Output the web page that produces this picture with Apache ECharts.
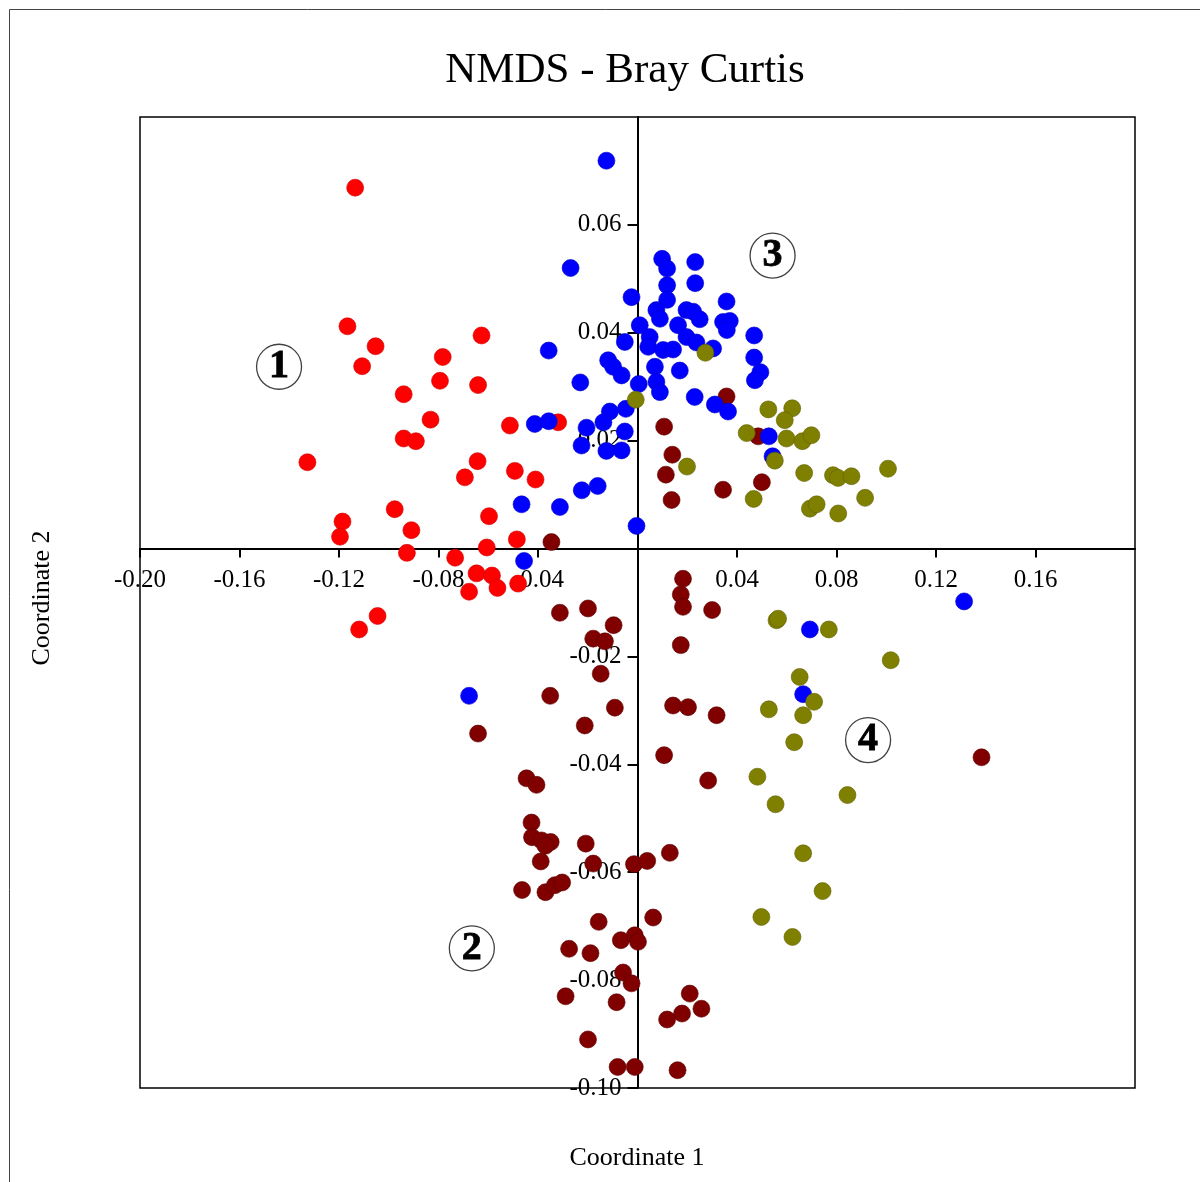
<!DOCTYPE html>
<html>
<head>
<meta charset="utf-8">
<script src="https://cdn.jsdelivr.net/npm/echarts@6/dist/echarts.min.js"></script>
<style>
html,body{margin:0;padding:0;background:#fff;}
#chart{width:1200px;height:1182px;}
</style>
</head>
<body>
<div id="chart"></div>
<script>
// ---- Data (NMDS coordinates) ----
var redPoints = [
  [-0.1135,0.0669],[-0.1166,0.0412],[-0.1053,0.0375],[-0.1107,0.0338],[-0.0783,0.0355],
  [-0.0794,0.0311],[-0.0627,0.0395],[-0.0641,0.0303],[-0.0940,0.0286],[-0.0832,0.0239],
  [-0.0940,0.0204],[-0.0891,0.0199],[-0.1327,0.0160],[-0.0643,0.0162],[-0.0694,0.0132],
  [-0.0493,0.0144],[-0.0410,0.0128],[-0.0513,0.0228],[-0.0319,0.0234],[-0.0976,0.0073],
  [-0.1186,0.0050],[-0.1196,0.0022],[-0.0909,0.0034],[-0.0597,0.0060],[-0.0485,0.0017],
  [-0.0606,0.0002],[-0.0927,-0.0008],[-0.0733,-0.0017],[-0.0647,-0.0046],[-0.0585,-0.0050],
  [-0.0563,-0.0073],[-0.0480,-0.0065],[-0.0677,-0.0080],[-0.1045,-0.0125],[-0.1119,-0.0150]
];
var maroonPoints = [
  [0.0358,0.0282],[0.0107,0.0226],[0.0485,0.0208],[0.0140,0.0174],[0.0114,0.0137],
  [0.0137,0.0090],[0.0344,0.0109],[0.0500,0.0123],[-0.0346,0.0012],[0.0183,-0.0056],
  [0.0174,-0.0085],[0.0183,-0.0108],[0.0300,-0.0114],[-0.0312,-0.0119],[-0.0199,-0.0111],
  [-0.0096,-0.0142],[-0.0178,-0.0167],[-0.0131,-0.0172],[0.0174,-0.0179],[-0.0148,-0.0232],
  [-0.0351,-0.0273],[-0.0091,-0.0295],[-0.0212,-0.0328],[0.0143,-0.0291],[0.0203,-0.0294],
  [0.0318,-0.0309],[0.0107,-0.0383],[-0.0641,-0.0343],[0.1383,-0.0387],[-0.0446,-0.0426],
  [-0.0406,-0.0438],[0.0284,-0.0430],[-0.0426,-0.0508],[-0.0424,-0.0535],[-0.0386,-0.0541],
  [-0.0349,-0.0544],[-0.0370,-0.0551],[-0.0389,-0.0580],[-0.0208,-0.0547],[-0.0178,-0.0584],
  [-0.0014,-0.0585],[0.0039,-0.0579],[0.0130,-0.0564],[-0.0464,-0.0633],[-0.0370,-0.0637],
  [-0.0332,-0.0624],[-0.0303,-0.0619],[-0.0156,-0.0692],[0.0063,-0.0684],[-0.0275,-0.0742],
  [-0.0189,-0.0750],[-0.0067,-0.0726],[-0.0011,-0.0717],[0.0002,-0.0729],[-0.0058,-0.0786],
  [-0.0024,-0.0806],[-0.0289,-0.0830],[-0.0084,-0.0841],[0.0210,-0.0825],[0.0179,-0.0862],
  [0.0119,-0.0873],[0.0257,-0.0853],[-0.0199,-0.0910],[-0.0080,-0.0961],[-0.0011,-0.0961],
  [0.0161,-0.0967]
];
var bluePoints = [
  [-0.0125,0.0719],[-0.0269,0.0520],[-0.0024,0.0466],[-0.0357,0.0367],[-0.0230,0.0308],
  [-0.0118,0.0349],[-0.0098,0.0337],[-0.0064,0.0321],[-0.0051,0.0383],[0.0009,0.0414],
  [0.0005,0.0305],[0.0099,0.0537],[0.0119,0.0519],[0.0232,0.0531],[0.0232,0.0492],
  [0.0119,0.0488],[0.0119,0.0461],[0.0358,0.0458],[0.0076,0.0442],[0.0090,0.0426],
  [0.0197,0.0442],[0.0224,0.0439],[0.0250,0.0425],[0.0344,0.0420],[0.0371,0.0422],
  [0.0359,0.0405],[0.0163,0.0414],[0.0049,0.0392],[0.0043,0.0374],[0.0103,0.0368],
  [0.0143,0.0369],[0.0197,0.0392],[0.0237,0.0382],[0.0304,0.0371],[0.0469,0.0395],
  [0.0469,0.0354],[0.0494,0.0327],[0.0472,0.0312],[0.0070,0.0337],[0.0170,0.0330],
  [0.0076,0.0309],[0.0090,0.0290],[0.0230,0.0281],[0.0311,0.0267],[0.0364,0.0254],
  [-0.0047,0.0259],[-0.0111,0.0254],[-0.0137,0.0234],[-0.0205,0.0224],[-0.0051,0.0217],
  [-0.0413,0.0231],[-0.0357,0.0236],[-0.0225,0.0191],[-0.0125,0.0181],[-0.0064,0.0182],
  [-0.0224,0.0108],[-0.0160,0.0116],[-0.0466,0.0082],[-0.0312,0.0077],[-0.0004,0.0042],
  [-0.0456,-0.0023],[0.0528,0.0208],[0.0543,0.0171],[0.1313,-0.0098],[0.0693,-0.0150],
  [0.0666,-0.0270],[-0.0677,-0.0273]
];
var olivePoints = [
  [0.0273,0.0363],[-0.0007,0.0276],[0.0526,0.0258],[0.0622,0.0260],[0.0592,0.0238],
  [0.0439,0.0214],[0.0599,0.0204],[0.0663,0.0199],[0.0699,0.0210],[0.0199,0.0152],
  [0.0552,0.0163],[0.0670,0.0140],[0.0786,0.0136],[0.0806,0.0131],[0.0860,0.0134],
  [0.1007,0.0148],[0.0467,0.0092],[0.0693,0.0074],[0.0720,0.0082],[0.0807,0.0065],
  [0.0915,0.0094],[0.0559,-0.0133],[0.0565,-0.0130],[0.0769,-0.0150],[0.1018,-0.0207],
  [0.0652,-0.0238],[0.0710,-0.0284],[0.0528,-0.0298],[0.0666,-0.0309],[0.0630,-0.0359],
  [0.0482,-0.0423],[0.0555,-0.0474],[0.0844,-0.0457],[0.0666,-0.0565],[0.0744,-0.0635],
  [0.0498,-0.0683],[0.0623,-0.0720]
];
// circled group labels (data coordinates)
var groupLabels = ['1','2','3','4'];
var groupLabelPos = [[-0.1441,0.0337],[-0.0666,-0.0741],[0.0543,0.0543],[0.0927,-0.0355]];
// axis settings
var xMin = -0.20, xMax = 0.20, xStep = 0.04;
var yMin = -0.10, yMax = 0.08, yStep = 0.02;

var FONT = '"Liberation Serif","Times New Roman",serif';
function fmt(v){ return Math.abs(v) < 1e-9 ? '' : v.toFixed(2); }

// grid box (pixels)
var G = { left: 140, right: 65, top: 117, bottom: 94 };
var gridW = 1200 - G.left - G.right, gridH = 1182 - G.top - G.bottom;
// move the axes so that they cross at the origin (0,0)
var xAxisShift = -((0 - yMin) / (yMax - yMin)) * gridH;
var yAxisShift = -((0 - xMin) / (xMax - xMin)) * gridW;

function pointSeries(name, data, color, border){
  return {
    name: name, type: 'scatter', data: data, symbol: 'circle', symbolSize: 17,
    itemStyle: { color: color, borderColor: border, borderWidth: 0.6, opacity: 1 },
    emphasis: { disabled: true }
  };
}

var chart = echarts.init(document.getElementById('chart'), null, {renderer: 'canvas'});
chart.setOption({
  backgroundColor: '#ffffff',
  animation: false,
  title: {
    text: 'NMDS - Bray Curtis', left: 620, top: 44, textAlign: 'center',
    textStyle: { fontFamily: FONT, fontSize: 43, fontWeight: 'normal', color: '#000' }
  },
  grid: {
    left: G.left, right: G.right, top: G.top, bottom: G.bottom, show: true,
    borderColor: '#000', borderWidth: 1.5, backgroundColor: 'transparent'
  },
  xAxis: {
    type: 'value', min: xMin, max: xMax, interval: xStep,
    position: 'bottom', offset: xAxisShift,
    axisLine: { onZero: false, lineStyle: { color: '#000', width: 2 } },
    axisTick: { show: true, length: 9, lineStyle: { color: '#000', width: 2 } },
    axisLabel: { formatter: fmt, showMaxLabel: false, margin: 19,
      fontFamily: FONT, fontSize: 25, color: '#000' },
    splitLine: { show: false }
  },
  yAxis: {
    type: 'value', min: yMin, max: yMax, interval: yStep,
    position: 'left', offset: yAxisShift,
    axisLine: { onZero: false, lineStyle: { color: '#000', width: 2 } },
    axisTick: { show: true, length: 10, lineStyle: { color: '#000', width: 2 } },
    axisLabel: { formatter: fmt, showMaxLabel: false, margin: 16,
      fontFamily: FONT, fontSize: 25, color: '#000' },
    splitLine: { show: false }
  },
  series: [
    pointSeries('Group 1', redPoints, '#ff0000', '#d00000'),
    pointSeries('Group 2', maroonPoints, '#800000', '#5a0000'),
    pointSeries('Group 3', bluePoints, '#0000ff', '#0000c8'),
    pointSeries('Group 4', olivePoints, '#808000', '#606000'),
    {
      name: 'Group labels', type: 'scatter', symbol: 'circle', symbolSize: 45,
      data: groupLabelPos.map(function(p, i){ return { value: p, name: groupLabels[i] }; }),
      itemStyle: { color: '#fff', borderColor: '#111', borderWidth: 1.3 },
      label: { show: true, position: 'inside', formatter: '{b}',
        fontFamily: FONT, fontSize: 40, fontWeight: 900, color: '#000000',
        textBorderColor: '#000000', textBorderWidth: 0.8, opacity: 1 },
      emphasis: { disabled: true }, z: 5
    }
  ],
  graphic: [
    { type: 'rect', shape: { x: 9.5, y: 9.5, width: 1400, height: 1400 },
      style: { fill: 'none', stroke: '#444', lineWidth: 1 }, silent: true, z: -1 },
    { type: 'text', x: 637, y: 1158,
      style: { text: 'Coordinate 1', font: '26px ' + FONT, fill: '#000',
        textAlign: 'center', textVerticalAlign: 'middle' } },
    { type: 'text', x: 42, y: 598, rotation: Math.PI / 2,
      style: { text: 'Coordinate 2', font: '26px ' + FONT, fill: '#000',
        textAlign: 'center', textVerticalAlign: 'middle' } }
  ]
});
</script>
</body>
</html>
